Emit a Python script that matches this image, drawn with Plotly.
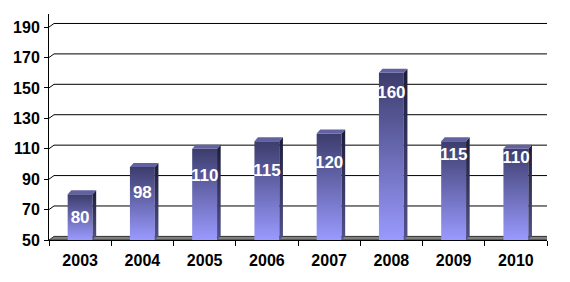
import plotly.graph_objects as go

# ---- data ----
years = ["2003", "2004", "2005", "2006", "2007", "2008", "2009", "2010"]
values = [80, 98, 110, 115, 120, 160, 115, 110]
label_pos = [63.8, 80.2, 91.6, 94.9, 100.4, 146.4, 105.2, 103.3]
y_ticks = [50, 70, 90, 110, 130, 150, 170, 190]

# ---- geometry ----
W, H = 570, 282
ML, MR, MT, MB = 49, 23, 14, 42
Y0, Y1 = 50, 198.6
X0, X1 = -0.5, len(years) - 0.5
px_x = (W - ML - MR) / (X1 - X0)
px_y = (H - MT - MB) / (Y1 - Y0)


def ox(px):
    return px / px_x


def oy(px):
    return px / px_y


bar_half = 0.2
bdx, bdy = ox(3.6), oy(4)
gdx, gdy = ox(5), oy(3.6)

FONT = "Liberation Sans, Arial, sans-serif"

fig = go.Figure()

shapes = []
for t in y_ticks[1:]:
    shapes.append(dict(
        type="path", xref="x", yref="y", layer="below",
        path=f"M {X0},{t} L {X0 + gdx},{t + gdy} L {X1 + gdx},{t + gdy}",
        line=dict(color="black", width=1),
    ))
shapes.append(dict(
    type="path", xref="x", yref="y", layer="below",
    path=f"M {X0},{Y0} L {X1},{Y0} L {X1 + gdx},{Y0 + gdy} L {X0 + gdx},{Y0 + gdy} Z",
    fillcolor="#808080", line=dict(color="#303030", width=1),
))

for i, v in enumerate(values):
    xl, xr = i - bar_half, i + bar_half
    # front face
    fig.add_trace(go.Scatter(
        x=[xl, xr, xr, xl, xl], y=[Y0, Y0, v, v, Y0],
        mode="none", fill="toself",
        fillgradient=dict(type="vertical",
                          colorscale=[[0, "#9a9aff"], [1, "#3c3c6c"]]),
        hoverinfo="skip", showlegend=False,
    ))
    # side face
    fig.add_trace(go.Scatter(
        x=[xr, xr + bdx, xr + bdx, xr, xr], y=[Y0, Y0 + bdy, v + bdy, v, Y0],
        mode="none", fill="toself",
        fillgradient=dict(type="vertical",
                          colorscale=[[0, "#52528c"], [1, "#1c1c38"]]),
        hoverinfo="skip", showlegend=False,
    ))
    # top face
    fig.add_trace(go.Scatter(
        x=[xl, xr, xr + bdx, xl + bdx, xl], y=[v, v, v + bdy, v + bdy, v],
        mode="none", fill="toself", fillcolor="#6262a2",
        hoverinfo="skip", showlegend=False,
    ))

fig.add_trace(go.Scatter(
    x=list(range(len(years))), y=label_pos, mode="text",
    text=[str(v) for v in values],
    textfont=dict(family=FONT, size=17, color="white", weight="bold"),
    hoverinfo="skip", showlegend=False,
))

fig.update_layout(
    width=W, height=H,
    margin=dict(l=ML, r=MR, t=MT, b=MB),
    paper_bgcolor="white", plot_bgcolor="white",
    shapes=shapes,
    showlegend=False,
    xaxis=dict(
        range=[X0, X1], tickvals=list(range(len(years))), ticktext=years,
        ticks="", showline=True, linecolor="black", linewidth=1,
        showgrid=False, zeroline=False, ticklabelstandoff=6,
        minor=dict(tickvals=[k - 0.5 for k in range(len(years) + 1)],
                   ticks="outside", ticklen=5, tickcolor="black", showgrid=False),
        tickfont=dict(family=FONT, size=16, color="black", weight="bold"),
    ),
    yaxis=dict(
        range=[Y0, Y1], tickvals=y_ticks,
        ticks="outside", ticklen=4, tickcolor="black",
        showline=True, linecolor="black", linewidth=1,
        showgrid=False, zeroline=False, ticklabelstandoff=1,
        tickfont=dict(family=FONT, size=16, color="black", weight="bold"),
    ),
)

fig.write_html("out.html")
